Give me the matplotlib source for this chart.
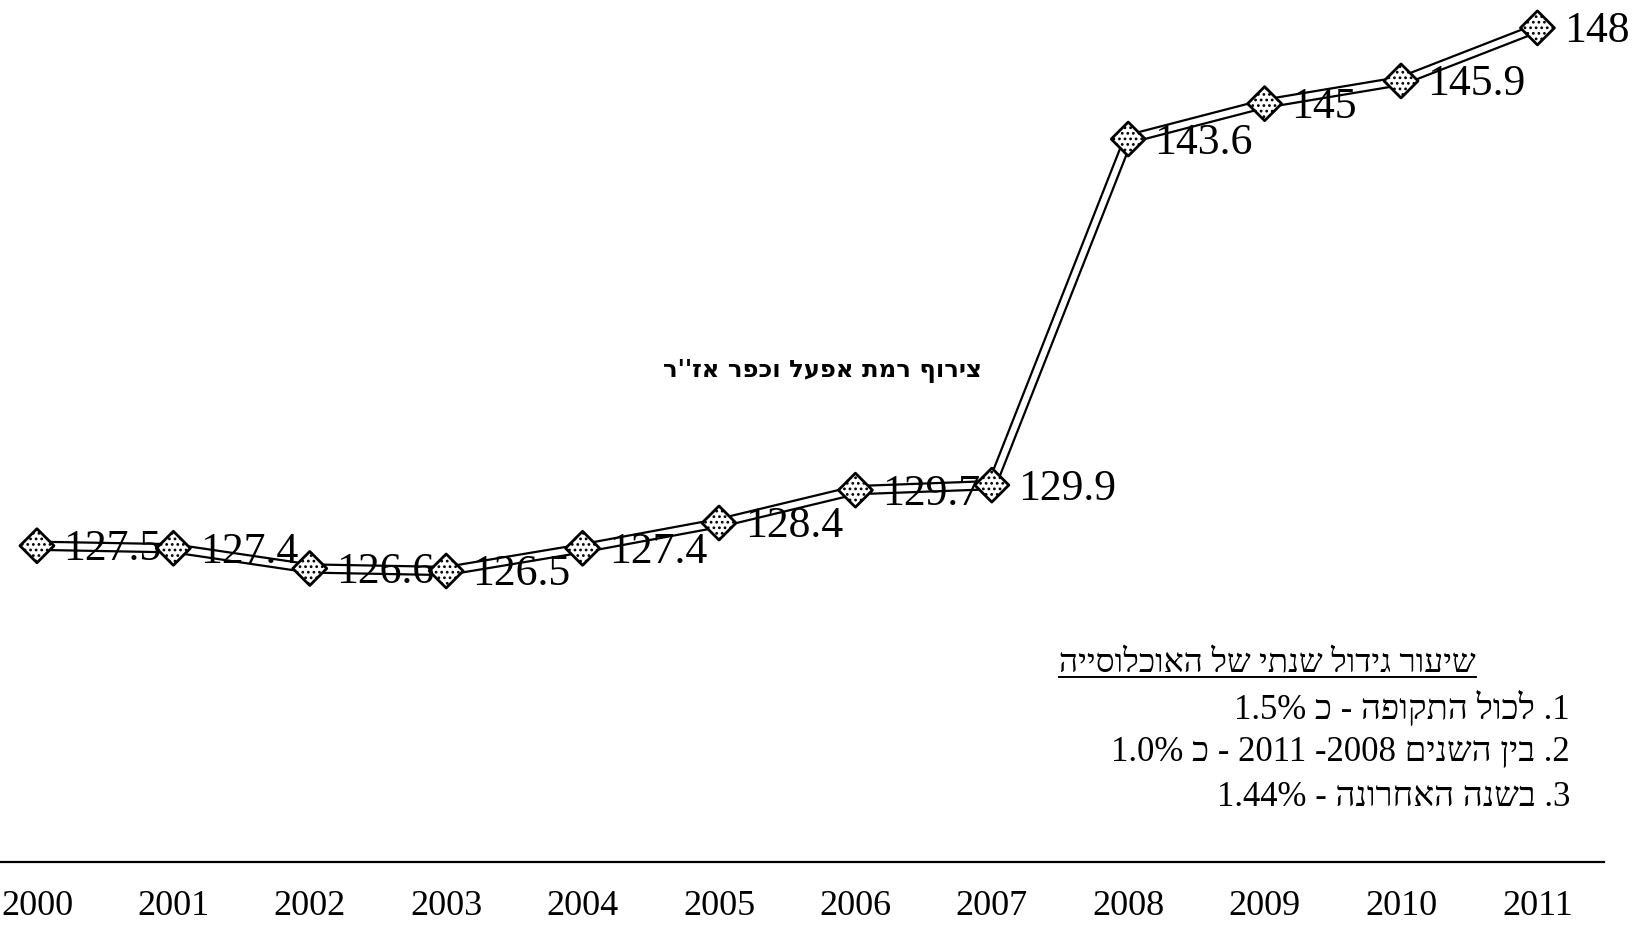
import re
import matplotlib
matplotlib.use("Agg")
import matplotlib.pyplot as plt
from matplotlib.lines import Line2D

years = [2000, 2001, 2002, 2003, 2004, 2005, 2006, 2007, 2008, 2009, 2010, 2011]
population = [127.5, 127.4, 126.6, 126.5, 127.4, 128.4, 129.7, 129.9, 143.6, 145.0, 145.9, 148.0]
value_labels = ["127.5", "127.4", "126.6", "126.5", "127.4", "128.4",
                "129.7", "129.9", "143.6", "145", "145.9", "148"]

note_text = "צירוף רמת אפעל וכפר אז''ר"
growth_title = "שיעור גידול שנתי של האוכלוסייה"
growth_rows = [
    "1. לכול התקופה - כ 1.5%",
    "2. בין השנים 2008- 2011 - כ 1.0%",
    "3. בשנה האחרונה - 1.44%",
]

SERIF = ["Liberation Serif", "DejaVu Serif", "DejaVu Sans"]
plt.rcParams["font.family"] = SERIF
plt.rcParams["hatch.color"] = "#808080"
plt.rcParams["hatch.linewidth"] = 1.2


def visual(s):
    # matplotlib lays text out left to right, so flip the Hebrew runs
    # while keeping numbers in reading order
    tokens = re.findall(r"\d+(?:\.\d+)?%?|.", s)
    return "".join(reversed(tokens))


W, H = 1644, 925
fig = plt.figure(figsize=(W / 100, H / 100), dpi=100)
ax = fig.add_axes([0, 63 / H, 1604 / W, 862 / H])
ax.set_xlim(1999.729, 2011.488)
ax.set_ylim(114.98, 149.105)

for s in ["left", "right", "top"]:
    ax.spines[s].set_visible(False)
ax.spines["bottom"].set_linewidth(1.6)
ax.set_yticks([])
ax.set_xticks(years)
ax.set_xticklabels([str(y) for y in years], fontsize=26)
ax.tick_params(axis="x", length=0, pad=20)

# double line: black outline with a white core
ax.plot(years, population, color="black", lw=7.5, solid_joinstyle="miter", zorder=2)
ax.plot(years, population, color="white", lw=4.3, solid_joinstyle="miter", zorder=3)
ax.scatter(years, population, marker="D", s=300, facecolor="white",
           edgecolor="black", linewidths=2.0, hatch="...", zorder=4)

for x, y, lab in zip(years, population, value_labels):
    ax.annotate(lab, (x, y), xytext=(19, -2.5), textcoords="offset points",
                ha="left", va="center", fontsize=31.5, zorder=5)

ax.text(2005.76, 134.4, visual(note_text), ha="center", va="center",
        fontsize=17.5, fontweight="bold", family=["DejaVu Sans"])

t = fig.text(1476 / W, 1 - 664 / H, visual(growth_title), ha="right",
             va="center", fontsize=24)
row_y = [709, 752, 797]
for ry, row in zip(row_y, growth_rows):
    fig.text(1570 / W, 1 - ry / H, visual(row), ha="right", va="center", fontsize=25)

# underline the heading
fig.canvas.draw()
bb = t.get_window_extent()
uy = 1 - 677 / H
fig.add_artist(Line2D([bb.x0 / W, bb.x1 / W], [uy, uy], color="black", lw=1.4,
                      transform=fig.transFigure))

fig.savefig("out.png", dpi=100, facecolor="white")
